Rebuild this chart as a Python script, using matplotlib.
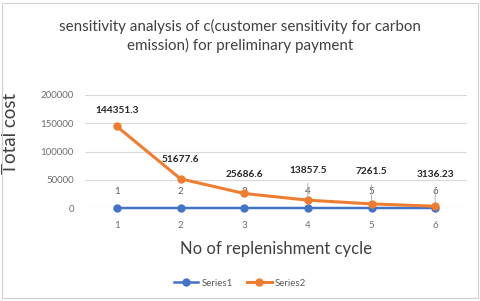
import matplotlib
matplotlib.use('Agg')
import matplotlib.pyplot as plt
from matplotlib.patches import Rectangle

# chart data
cycles = [1, 2, 3, 4, 5, 6]
series1 = [1, 2, 3, 4, 5, 6]
series2 = [144351.3, 51677.6, 25686.6, 13857.5, 7261.5, 3136.23]
series2_labels = ['144351.3', '51677.6', '25686.6', '13857.5', '7261.5', '3136.23']
yticks = [0, 50000, 100000, 150000, 200000]

BLUE = '#4472C4'
ORANGE = '#ED7D31'
GREY = '#595959'

plt.rcParams['font.family'] = ['Lato', 'DejaVu Sans']


def main():
    fig = plt.figure(figsize=(4.8, 3.01), dpi=100)
    fig.patches.append(Rectangle((2 / 480, 3 / 301), 476 / 480, 295 / 301,
                                 transform=fig.transFigure, fill=False,
                                 edgecolor='#d0d0d0', lw=0.8))

    ax = fig.add_axes([85 / 480, 1 - 208 / 301, 382 / 480, 113 / 301])
    ax.plot(cycles, series1, color=BLUE, lw=1.8, marker='o', ms=5, label='Series1',
            zorder=3, clip_on=False)
    ax.plot(cycles, series2, color=ORANGE, lw=2.2, marker='o', ms=5, label='Series2',
            zorder=4, clip_on=False)

    # data labels
    for x, y in zip(cycles, series1):
        ax.annotate(str(y), (x, y), xytext=(0, 16), textcoords='offset pixels',
                    ha='center', va='center', fontsize=7, color=GREY)
    s2_offsets = [16, 19, 19, 30, 32, 32]
    for x, y, lab, off in zip(cycles, series2, series2_labels, s2_offsets):
        arrow = None
        if off > 20:
            arrow = dict(arrowstyle='-', color='#a6a6a6', lw=0.6, shrinkA=4, shrinkB=2)
        ax.annotate(lab, (x, y), xytext=(0, off), textcoords='offset pixels',
                    ha='center', va='center', fontsize=7.3, fontweight='bold',
                    color='#262626', arrowprops=arrow, zorder=5)

    ax.set_xlim(0.5, 6.5)
    ax.set_ylim(0, 200000)
    ax.set_yticks(yticks)
    ax.set_xticks(cycles)
    ax.grid(axis='y', color='#d9d9d9', lw=0.8)
    ax.set_axisbelow(True)
    for s in ax.spines.values():
        s.set_visible(False)
    ax.tick_params(length=0, labelsize=7, labelcolor='#6e6e6e', pad=9)
    ax.tick_params(axis='y', pad=8)

    ax.set_xlabel('No of replenishment cycle', fontsize=12, color='#404040', labelpad=8)
    ax.set_ylabel('Total cost', fontsize=13.5, color='#404040')
    ax.yaxis.set_label_coords(-0.173, 0.66)

    fig.text(0.5, 1 - 36 / 301,
             'sensitivity analysis of c(customer sensitivity for carbon\nemission) for preliminary payment',
             ha='center', va='center', fontsize=10.9, color='#404040', linespacing=1.3)

    fig.legend(loc='center', bbox_to_anchor=(0.5, 1 - 283 / 301), ncol=2, frameon=False,
               fontsize=7, labelcolor=GREY, handlelength=2.5, handletextpad=0.3,
               columnspacing=1.5)

    fig.savefig('out.png', dpi=100, facecolor='white')


if __name__ == '__main__':
    main()
